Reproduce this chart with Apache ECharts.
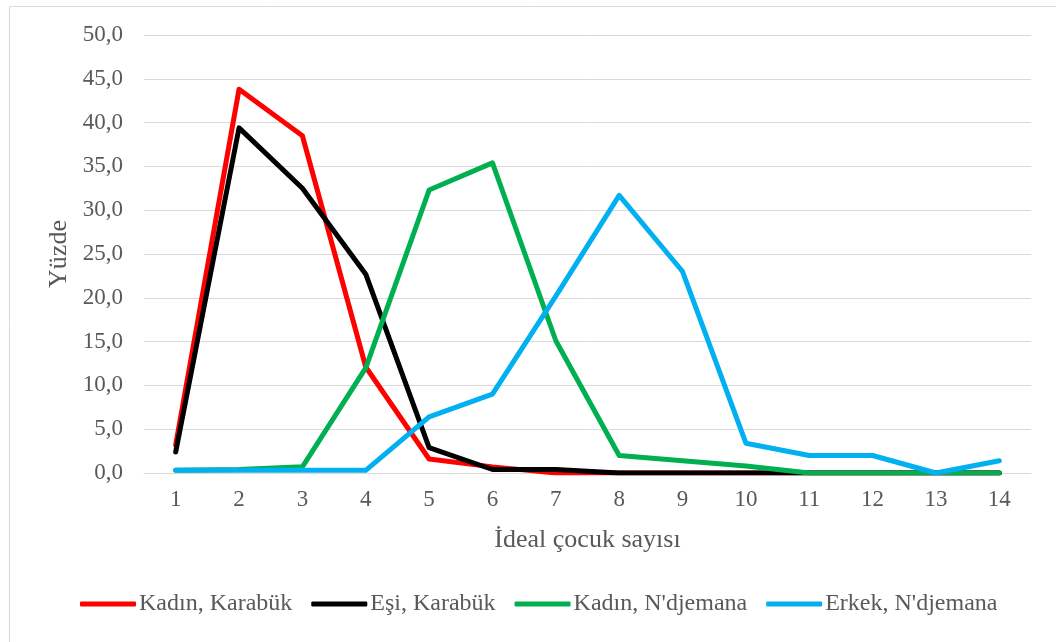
<!DOCTYPE html>
<html>
<head>
<meta charset="utf-8">
<script src="https://cdn.jsdelivr.net/npm/echarts@6/dist/echarts.min.js"></script>
<style>
  html, body { margin: 0; padding: 0; background: #ffffff; }
  #chart { width: 1056px; height: 642px; }
</style>
</head>
<body>
<div id="chart"></div>
<script>
// Ideal number of children: share (%) of respondents per answer
const categories = ['1', '2', '3', '4', '5', '6', '7', '8', '9', '10', '11', '12', '13', '14'];

const kadinKarabuk = [3.2, 43.8, 38.5, 12.1, 1.6, 0.7, 0, 0, 0, 0, 0, 0, 0, 0];
const esiKarabuk = [2.4, 39.4, 32.5, 22.7, 2.9, 0.4, 0.4, 0, 0, 0, 0, 0, 0, 0];
const kadinNdjemana = [0.3, 0.4, 0.7, 12.0, 32.3, 35.4, 15.1, 2.0, 1.4, 0.8, 0, 0, 0, 0];
const erkekNdjemana = [0.3, 0.3, 0.3, 0.3, 6.4, 9.0, 20.2, 31.7, 23.0, 3.4, 2.0, 2.0, 0, 1.4];

const seriesNames = ['Kadın, Karabük', 'Eşi, Karabük', 'Kadın, N\'djemana', 'Erkek, N\'djemana'];
const seriesColors = ['#ff0000', '#000000', '#00b050', '#00b0f0'];
const seriesData = [kadinKarabuk, esiKarabuk, kadinNdjemana, erkekNdjemana];

const FONT = '"Liberation Serif", "Times New Roman", serif';
const TEXT = '#595959';

const chart = echarts.init(document.getElementById('chart'), null, { renderer: 'canvas' });

chart.setOption({
  backgroundColor: '#ffffff',
  animation: false,
  textStyle: { fontFamily: FONT, color: TEXT },
  graphic: [{
    type: 'rect',
    shape: { x: 9.5, y: 6.5, width: 1100, height: 700 },
    style: { fill: 'none', stroke: '#d9d9d9', lineWidth: 1 },
    silent: true
  }],
  grid: { left: 144, right: 25, top: 35, bottom: 169, containLabel: false },
  legend: {
    data: seriesNames,
    bottom: 21,
    left: 75,
    icon: 'roundRect',
    itemWidth: 56,
    itemHeight: 5,
    itemGap: 19,
    textStyle: { fontFamily: FONT, fontSize: 24, color: TEXT, padding: [0, 0, 0, -2] }
  },
  xAxis: {
    type: 'category',
    data: categories,
    boundaryGap: true,
    name: 'İdeal çocuk sayısı',
    nameLocation: 'middle',
    nameGap: 54,
    nameTextStyle: { fontFamily: FONT, fontSize: 26, color: TEXT },
    axisLine: { show: true, lineStyle: { color: '#d9d9d9', width: 1 } },
    axisTick: { show: false },
    axisLabel: { fontFamily: FONT, fontSize: 23, color: TEXT, margin: 15 }
  },
  yAxis: {
    type: 'value',
    min: 0,
    max: 50,
    interval: 5,
    name: 'Yüzde',
    nameLocation: 'middle',
    nameGap: 72,
    nameTextStyle: { fontFamily: FONT, fontSize: 26, color: TEXT },
    axisLine: { show: false },
    axisTick: { show: false },
    splitLine: { lineStyle: { color: '#d9d9d9', width: 1 } },
    axisLabel: {
      fontFamily: FONT, fontSize: 23, color: TEXT, margin: 21,
      formatter: v => v.toFixed(1).replace('.', ',')
    }
  },
  series: seriesData.map((d, i) => ({
    name: seriesNames[i],
    type: 'line',
    data: d,
    symbol: 'none',
    lineStyle: { color: seriesColors[i], width: 5, cap: 'round', join: 'round' },
    itemStyle: { color: seriesColors[i] }
  }))
});
</script>
</body>
</html>
